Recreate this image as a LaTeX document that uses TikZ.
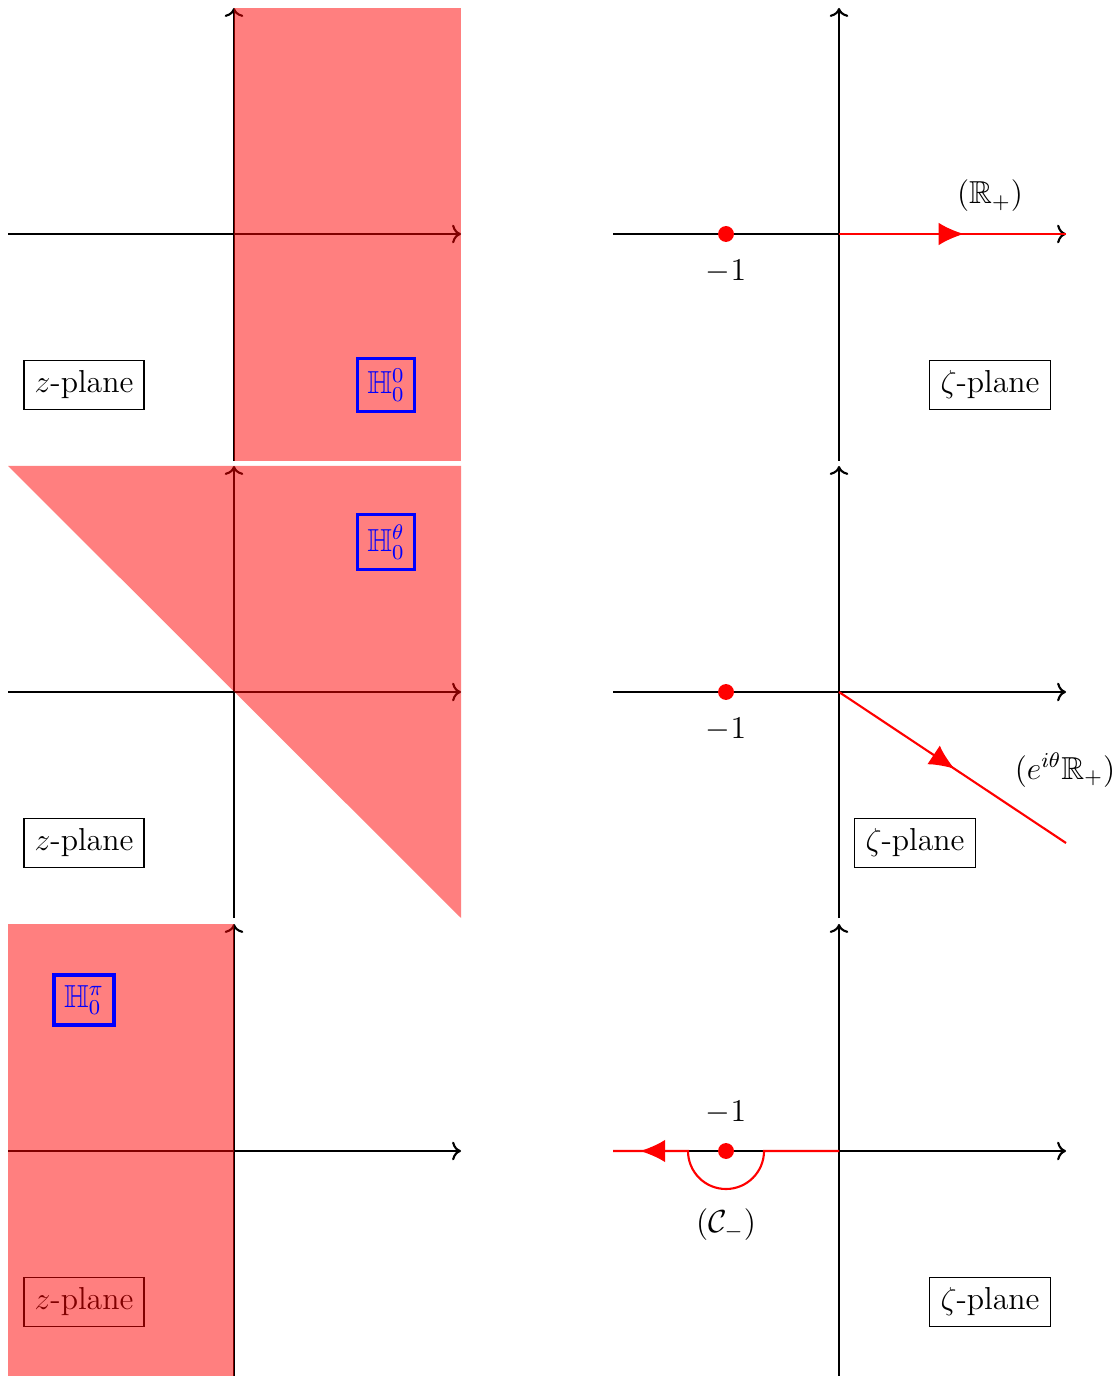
\documentclass[tikz,border=0pt]{standalone}
\usepackage{amssymb}
\usetikzlibrary{arrows.meta,decorations.markings}
\begin{document}
\begin{tikzpicture}[x=0.3777pt,y=-0.3777pt,
  axis/.style={thick,->},
  region/.style={fill=red,fill opacity=0.5},
  planebox/.style={draw,thin,font=\fontsize{12}{14}\selectfont,inner sep=4pt},
  hbox/.style={draw=blue,very thick,text=blue,font=\fontsize{12}{14}\selectfont,inner sep=3.8pt},
  lab/.style={font=\fontsize{12}{14}\selectfont},
  dot/.style={circle,fill=red,inner sep=0pt,minimum size=6pt},
  path/.style={red,thick},
  midarrow/.style={postaction={decorate},decoration={markings,
     mark=at position #1 with {\arrow{Latex[length=9.5pt,width=8.5pt]}}}}
]
\useasboundingbox (0,0) rectangle (1117,1376);
% ---------- Row 1 ----------
\node[planebox] (zp1) at (84,385) {$z$-plane};
\draw[axis] (8,234) -- (461,234);
\draw[axis] (234,461) -- (234,8);
\fill[region] (234,8) rectangle (461,461);
\node[hbox] (h1) at (386,385) {$\mathbb{H}_0^0$};

\draw[axis] (613,234) -- (1066,234);
\draw[axis] (839,461) -- (839,8);
\coordinate (o1) at (839,234);
\coordinate (e1) at (1066,234);
\draw[path,midarrow=0.55] (o1) -- (e1);
\node[dot] (m1) at (726,234) {};
\node[lab] (l1) at (726,272) {$-1$};
\node[lab] (r1) at (990,196) {$(\mathbb{R}_+)$};
\node[planebox] (zz1) at (990,385) {$\zeta$-plane};

% ---------- Row 2 ----------
\node[planebox] (zp2) at (84,843) {$z$-plane};
\draw[axis] (8,692) -- (461,692);
\draw[axis] (234,918) -- (234,466);
\fill[region] (8,466) -- (461,466) -- (461,918) -- cycle;
\node[hbox] (h2) at (386,542) {$\mathbb{H}_0^\theta$};

\draw[axis] (613,692) -- (1066,692);
\draw[axis] (839,918) -- (839,466);
\coordinate (o2) at (839,692);
\coordinate (e2) at (1066,843);
\draw[path,midarrow=0.51] (o2) -- (e2);
\node[dot] (m2) at (726,692) {};
\node[lab] (l2) at (726,730) {$-1$};
\node[lab] (r2) at (1065,770) {$(e^{i\theta}\mathbb{R}_+)$};
\node[planebox] (zz2) at (915,843) {$\zeta$-plane};

% ---------- Row 3 ----------
\node[planebox] (zp3) at (84,1302) {$z$-plane};
\draw[axis] (8,1151) -- (461,1151);
\draw[axis] (234,1376) -- (234,924);
\fill[region] (8,924) rectangle (234,1376);
\node[hbox] (h3) at (84,1000) {$\mathbb{H}_0^\pi$};

\draw[axis] (613,1151) -- (1066,1151);
\draw[axis] (839,1376) -- (839,924);
\coordinate (o3) at (839,1151);
\coordinate (a3) at (764,1151);
\coordinate (e3) at (613,1151);
\draw[path,midarrow=0.9] (o3) -- (a3) arc[start angle=0,end angle=180,radius=38] -- (e3);
\node[dot] (m3) at (726,1151) {};
\node[lab] (l3) at (726,1113) {$-1$};
\node[lab] (r3) at (726,1225) {$(\mathcal{C}_-)$};
\node[planebox] (zz3) at (990,1302) {$\zeta$-plane};
\end{tikzpicture}
\end{document}
